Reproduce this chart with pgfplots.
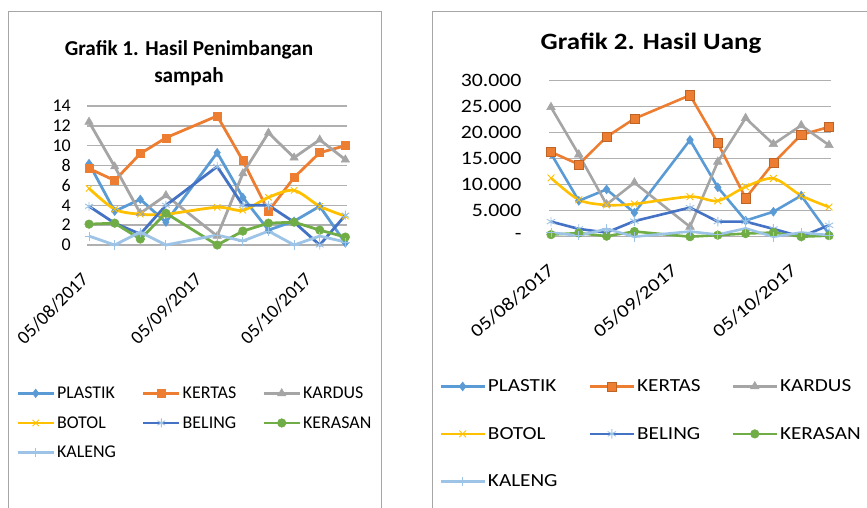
\documentclass[border=0pt]{standalone}
\usepackage{pgfplots}
\usepackage{pgfplotstable}
\pgfplotsset{compat=1.18}
\usepackage{fontspec}
\setmainfont{Carlito}
\newfontfamily\wide[FakeStretch=1.15]{Carlito}

\definecolor{cPl}{HTML}{5B9BD5}
\definecolor{cKe}{HTML}{ED7D31}
\definecolor{cKa}{HTML}{A5A5A5}
\definecolor{cBo}{HTML}{FFC000}
\definecolor{cBe}{HTML}{4472C4}
\definecolor{cKr}{HTML}{70AD47}
\definecolor{cKl}{HTML}{9DC3E6}
\definecolor{gridc}{HTML}{B0B0B0}
\definecolor{framec}{HTML}{A6A6A6}

\pgfplotstableread{
day PL KE KA BO BE KR KL
0  8.2 7.7 12.4 5.7 3.9 2.1 0.9
7  3.4 6.5 7.9 3.6 2.2 2.2 0.0
14 4.6 9.2 3.2 3.1 1.1 0.6 1.3
21 2.3 10.8 5.0 3.1 4.0 3.2 0.0
35 9.3 13.0 0.9 3.8 7.9 0.0 1.0
42 4.8 8.5 7.2 3.5 4.0 1.4 0.4
49 1.5 3.4 11.3 4.8 4.0 2.2 1.4
56 2.4 6.8 8.8 5.5 2.3 2.3 0.0
63 3.9 9.3 10.6 3.9 0.0 1.5 0.9
70 0.2 10.0 8.6 2.9 3.0 0.8 0.3
}\tA

\pgfplotstableread{
day PL KE KA BO BE KR KL
0  16000 16300 24900 11300 2900 400 800
7  6900 13900 15800 7100 1500 700 200
14 9100 19200 6200 6100 800 100 1500
21 4600 22700 10400 6300 3000 1000 0
35 18600 27200 1900 7700 5600 0 1000
42 9500 18000 14400 6900 2900 300 400
49 3100 7400 22800 9600 2900 600 1600
56 4800 14200 17800 11200 1500 800 0
63 7900 19600 21400 7900 0 0 800
70 500 21100 17600 5700 2200 200 300
}\tB

\pgfplotsset{
  common/.style={
    scale only axis,
    xmin=-0.5, xmax=70.5,
    axis line style={draw=none},
    major tick length=0pt,
    ymajorgrids,
    grid style={gridc, line width=1.3bp},
    xtick={0,31,61},
    xticklabels={05/08/2017,05/09/2017,05/10/2017},
    clip=false,
    legend cell align=left,
  },
}

\begin{document}
\begin{tikzpicture}
\useasboundingbox (0,0) rectangle (867bp,508bp);
% frames
\draw[framec, line width=1bp] (8bp,-5bp) -- (8bp,496bp) -- (381bp,496bp) -- (381bp,-5bp);
\draw[framec, line width=1bp] (432bp,-5bp) -- (432bp,496bp) -- (880bp,496bp);
% titles
\node[font=\bfseries\fontsize{21.3}{27}\selectfont, align=center] at (189bp,444.5bp) {Grafik 1. Hasil Penimbangan\\sampah};
\node[font=\wide\bfseries\fontsize{23.5}{30}\selectfont] at (651bp,465bp) {Grafik 2. Hasil Uang};

% ---------------- Chart 1
\begin{axis}[common,
  at={(87.2bp,263bp)}, anchor=south west,
  width=260bp, height=139bp,
  ymin=0, ymax=14, ytick={0,2,...,14},
  /pgf/number format/assume math mode=true,
  yticklabel style={font=\fontsize{18}{18}\selectfont, xshift=-13bp},
  xticklabel style={xshift=-9bp, yshift=-26bp, font=\fontsize{19}{19}\selectfont, rotate=45, anchor=north east, inner sep=0pt},
  legend columns=3,
  legend style={at={(axis description cs:-0.285,-0.99)}, anchor=north west, draw=none, fill=none,
    font=\fontsize{18}{18}\selectfont, row sep=12.5bp,
    /tikz/every even column/.append style={column sep=24bp}},
  legend image code/.code={\draw[mark repeat=2,mark phase=2] plot coordinates {(0bp,0bp) (18bp,0bp) (36bp,0bp)};},
]
\addplot[cPl, line width=2.8bp, mark=diamond*, mark size=4.3bp, mark options={fill=cPl, line width=0.5bp}] table[x=day,y=PL]{\tA};
\addlegendentry{PLASTIK}
\addplot[cKe, line width=2.8bp, mark=square*, mark size=4bp, mark options={fill=cKe, line width=0.5bp}] table[x=day,y=KE]{\tA};
\addlegendentry{KERTAS}
\addplot[cKa, line width=2.8bp, mark=triangle*, mark size=4.8bp, mark options={fill=cKa, line width=0.5bp}] table[x=day,y=KA]{\tA};
\addlegendentry{KARDUS}
\addplot[cBo, line width=2.8bp, smooth, mark=x, mark size=4.5bp, mark options={line width=0.9bp}] table[x=day,y=BO]{\tA};
\addlegendentry{BOTOL}
\addplot[cBe, line width=2.8bp, mark=asterisk, mark size=4.5bp, mark options={cKl, line width=0.9bp}] table[x=day,y=BE]{\tA};
\addlegendentry{BELING}
\addplot[cKr, line width=2.8bp, mark=*, mark size=4.3bp, mark options={fill=cKr, line width=0.5bp}] table[x=day,y=KR]{\tA};
\addlegendentry{KERASAN}
\addplot[cKl, line width=2.8bp, mark=+, mark size=4.5bp, mark options={line width=0.9bp}] table[x=day,y=KL]{\tA};
\addlegendentry{KALENG}
\end{axis}

% ---------------- Chart 2
\begin{axis}[common,
  at={(549bp,271.3bp)}, anchor=south west,
  width=282bp, height=156bp,
  ymin=0, ymax=30000, ytick={0,5000,...,30000},
  yticklabels={-,5.000,10.000,15.000,20.000,25.000,30.000},
  scaled y ticks=false,
  yticklabel style={font=\wide\fontsize{19}{19}\selectfont, xshift=-24bp},
  xticklabel style={xshift=-4bp, yshift=-26bp, font=\wide\fontsize{18.5}{18.5}\selectfont, rotate=40, anchor=north east, inner sep=0pt},
  legend columns=3,
  legend style={at={(axis description cs:-0.40,-0.89)}, anchor=north west, draw=none, fill=none,
    font=\wide\fontsize{18.5}{18.5}\selectfont, row sep=30bp,
    /tikz/every even column/.append style={column sep=29bp}},
  legend image code/.code={\draw[mark repeat=2,mark phase=2] plot coordinates {(0bp,0bp) (22bp,0bp) (44bp,0bp)};},
]
\addplot[cPl, line width=2.6bp, mark=diamond*, mark size=4.5bp, mark options={fill=cPl, line width=0.5bp}] table[x=day,y=PL]{\tB};
\addlegendentry{PLASTIK}
\addplot[cKe, line width=2.6bp, mark=square*, mark size=4.6bp, mark options={fill=cKe, draw=cKe!80!black, line width=0.5bp}] table[x=day,y=KE]{\tB};
\addlegendentry{KERTAS}
\addplot[cKa, line width=2.6bp, mark=triangle*, mark size=5bp, mark options={fill=cKa, line width=0.5bp}] table[x=day,y=KA]{\tB};
\addlegendentry{KARDUS}
\addplot[cBo, line width=2.6bp, smooth, mark=x, mark size=4.8bp, mark options={line width=0.9bp}] table[x=day,y=BO]{\tB};
\addlegendentry{BOTOL}
\addplot[cBe, line width=2.6bp, mark=asterisk, mark size=4.8bp, mark options={cKl, line width=0.9bp}] table[x=day,y=BE]{\tB};
\addlegendentry{BELING}
\addplot[cKr, line width=2.6bp, mark=*, mark size=4.3bp, mark options={fill=cKr, line width=0.5bp}] table[x=day,y=KR]{\tB};
\addlegendentry{KERASAN}
\addplot[cKl, line width=2.6bp, mark=+, mark size=4.8bp, mark options={line width=0.9bp}] table[x=day,y=KL]{\tB};
\addlegendentry{KALENG}
\end{axis}
\end{tikzpicture}
\end{document}
